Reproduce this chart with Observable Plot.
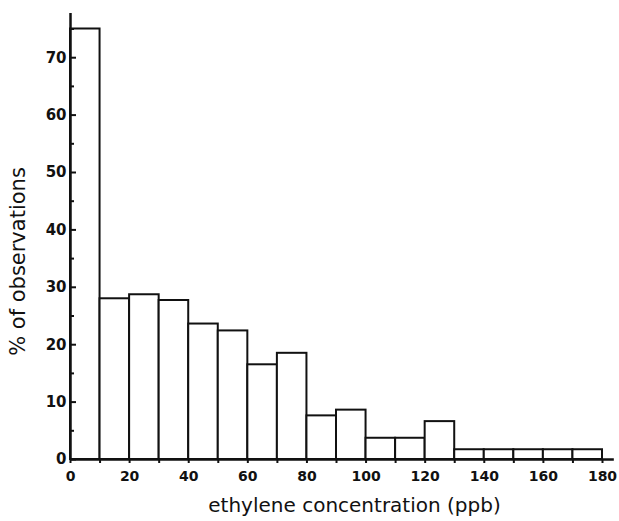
<!DOCTYPE html>
<html>
<head>
<meta charset="utf-8">
<script src="https://cdn.jsdelivr.net/npm/d3@7"></script>
<script src="https://cdn.jsdelivr.net/npm/@observablehq/plot@0.6"></script>
<style>
  html, body { margin: 0; padding: 0; background: #fff; }
</style>
</head>
<body>
<div id="chart"></div>
<script>
const binStart = [0, 10, 20, 30, 40, 50, 60, 70, 80, 90, 100, 110, 120, 130, 140, 150, 160, 170];
const binEnd   = [10, 20, 30, 40, 50, 60, 70, 80, 90, 100, 110, 120, 130, 140, 150, 160, 170, 180];
const percent  = [75, 28, 28.7, 27.7, 23.6, 22.4, 16.5, 18.5, 7.6, 8.6, 3.7, 3.7, 6.6, 1.7, 1.7, 1.7, 1.7, 1.7];
const yTicks = [0, 10, 20, 30, 40, 50, 60, 70];
const yMinor = [5, 15, 25, 35, 45, 55, 65, 75];
const xTicks = [0, 20, 40, 60, 80, 100, 120, 140, 160, 180];
const xMinor = [10, 30, 50, 70, 90, 110, 130, 150, 170];
const xLabel = "ethylene concentration (ppb)";
const yLabel = "% of observations";

const bins = binStart.map((s, i) => ({x1: s, x2: binEnd[i], y: percent[i]}));
const font = "'DejaVu Sans', sans-serif";

const chart = Plot.plot({
  width: 619,
  height: 521,
  marginLeft: 70,
  marginRight: 17,
  marginTop: 13,
  marginBottom: 62,
  style: {fontFamily: font, background: "#fff", color: "#111"},
  x: {domain: [0, 180]},
  y: {domain: [0, 77.7]},
  marks: [
    Plot.rectY(bins, {x1: "x1", x2: "x2", y: "y", fill: "white", stroke: "#111", strokeWidth: 2}),
    Plot.axisY(yTicks, {tickSize: -6, tickPadding: 10, fontSize: 15, fontWeight: "bold", strokeWidth: 2, label: null}),
    Plot.axisY(yMinor, {tickSize: -4, text: null, strokeWidth: 2, label: null}),
    Plot.axisX(xTicks, {tickSize: 4, tickPadding: 8, fontSize: 14, fontWeight: "bold", strokeWidth: 2, label: null}),
    Plot.axisX(xMinor, {tickSize: 4, text: null, strokeWidth: 2, label: null}),
    Plot.ruleX([0], {y1: 0, y2: 77.7, stroke: "#111", strokeWidth: 2.5}),
    Plot.ruleY([0], {x1: 0, x2: 184, stroke: "#111", strokeWidth: 2.5, clip: false}),
    Plot.text([xLabel], {frameAnchor: "bottom", dx: 18, dy: 52, fontSize: 20, fill: "#111"}),
    Plot.text([yLabel], {frameAnchor: "left", textAnchor: "middle", dx: -52, dy: 25, rotate: -90, fontSize: 21, fill: "#111"})
  ]
});
document.getElementById("chart").appendChild(chart);
</script>
</body>
</html>
